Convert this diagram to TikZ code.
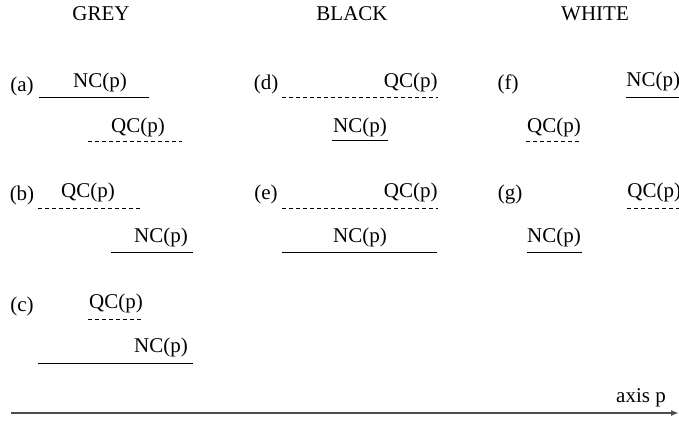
\documentclass[tikz,border=0pt]{standalone}
\usepackage{fontspec}
\setmainfont{Liberation Serif}
\usetikzlibrary{arrows.meta}

\begin{document}
\begin{tikzpicture}[x=0.5pt,y=-0.5pt,
    every node/.style={font=\fontsize{10.5}{12}\selectfont, inner sep=0pt, anchor=base},
    nline/.style={line width=0.5pt},
    qline/.style={line width=0.5pt, dash pattern=on 2pt off 1.5pt}]
    \useasboundingbox (0,0) rectangle (679,420);

    % Column heads
    \node (grey) at (101,20) {GREY};
    \node (black) at (352,20) {BLACK};
    \node (white) at (595,20) {WHITE};

    % GREY: (a), (b), (c)
    \node (a) at (22,91) {(a)};
    \node (ncA) at (100,87) {NC(p)};
    \draw[nline] (39,97) -- (149,97);
    \node (qcA) at (138,132) {QC(p)};
    \draw[qline] (88,141) -- (182,141);

    \node (b) at (22,200) {(b)};
    \node (qcB) at (88,197) {QC(p)};
    \draw[qline] (38,208) -- (142,208);
    \node (ncB) at (161,242) {NC(p)};
    \draw[nline] (111,252) -- (193,252);

    \node (c) at (22,311) {(c)};
    \node (qcC) at (116,308) {QC(p)};
    \draw[qline] (88,319) -- (143,319);
    \node (ncC) at (161,352) {NC(p)};
    \draw[nline] (38,363) -- (193,363);

    % BLACK: (d), (e)
    \node (d) at (266,89) {(d)};
    \node[anchor=base east] (qcD) at (438,87) {QC(p)};
    \draw[qline] (282,97) -- (438,97);
    \node (ncD) at (360,132) {NC(p)};
    \draw[nline] (332,140) -- (388,140);

    \node (e) at (266,199) {(e)};
    \node[anchor=base east] (qcE) at (438,197) {QC(p)};
    \draw[qline] (282,208) -- (438,208);
    \node (ncE) at (360,242) {NC(p)};
    \draw[nline] (282,252) -- (437,252);

    % WHITE: (f), (g)
    \node (f) at (508,89) {(f)};
    \node[anchor=base west] (ncF) at (626,86) {NC(p)};
    \draw[nline] (626,97) -- (679,97);
    \node (qcF) at (554,132) {QC(p)};
    \draw[qline] (526,141) -- (582,141);

    \node (g) at (510,199) {(g)};
    \node[anchor=base west] (qcG) at (627,197) {QC(p)};
    \draw[qline] (627,208) -- (679,208);
    \node (ncG) at (554,242) {NC(p)};
    \draw[nline] (527,252) -- (582,252);

    % axis
    \node (axis) at (641,402) {axis p};
    \draw[black!70, line width=1pt, -{Latex[length=4pt,width=3pt]}] (11,413) -- (679,413);
\end{tikzpicture}
\end{document}
